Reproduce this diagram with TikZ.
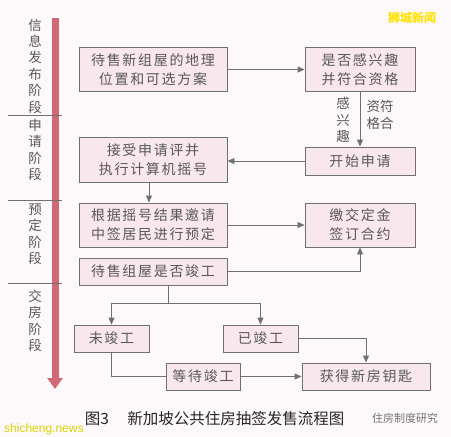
\documentclass[tikz,border=0pt]{standalone}
\usepackage{fontspec}
\newfontfamily\cjk{Noto Sans CJK SC}
\newfontfamily\cjkbox{Noto Sans CJK SC}[LetterSpace=12]
\newfontfamily\latinsans{Liberation Sans}
\usepackage{tikz}
\usetikzlibrary{calc,arrows.meta,positioning}
\definecolor{bgpink}{HTML}{FDF8FA}
\definecolor{boxfill}{HTML}{F8E7EC}
\definecolor{linegrey}{HTML}{707070}
\definecolor{textgrey}{HTML}{585858}
\definecolor{stagered}{HTML}{D06876}
\tikzset{flow/.style={draw=linegrey,fill=boxfill,line width=0.9pt,text=textgrey,align=center,inner sep=0pt,
    font=\cjkbox\fontsize{14}{19}\selectfont},
  link/.style={draw=linegrey,line width=0.9pt,-{Triangle[length=7pt,width=6pt]}},
  plain/.style={draw=linegrey,line width=0.9pt},
  stage/.style={text=textgrey,align=center,inner sep=0pt,font=\cjk\fontsize{13.5}{16.4}\selectfont}}

\begin{document}
\begin{tikzpicture}[x=1pt,y=-1pt]

% Background
\fill[bgpink] (0,0) rectangle (451,437);
\useasboundingbox (0,0) rectangle (451,437);

% Stages
\draw[stagered,line width=7pt,-{Triangle[length=11pt,width=15pt]}] (55,18) -- (55,389);
\draw[linegrey,line width=0.7pt] (8,115) -- (62,115);
\draw[linegrey,line width=0.7pt] (8,200) -- (62,200);
\draw[linegrey,line width=0.7pt] (8,283) -- (62,283);
\node[stage] (st1) at (35,66)  {信\\息\\发\\布\\阶\\段};
\node[stage] (st2) at (35,150) {申\\请\\阶\\段};
\node[stage] (st3) at (35,234) {预\\定\\阶\\段};
\node[stage] (st4) at (35,321) {交\\房\\阶\\段};

% Nodes
\node[flow,minimum width=148,minimum height=44] (info)     at (153,69.5)  {待售新组屋的地理\\位置和可选方案};
\node[flow,minimum width=110,minimum height=44] (interest) at (360,69.5)  {是否感兴趣\\并符合资格};
\node[flow,minimum width=110,minimum height=28] (apply)    at (360,161)   {开始申请};
\node[flow,minimum width=148,minimum height=45] (lottery)  at (153,159.5) {接受申请评并\\执行计算机摇号};
\node[flow,minimum width=148,minimum height=44] (booking)  at (153,225)   {根据摇号结果邀请\\中签居民进行预定};
\node[flow,minimum width=110,minimum height=44] (deposit)  at (360,225)   {缴交定金\\签订合约};
\node[flow,minimum width=148,minimum height=27] (ready)    at (153,271.5) {待售组屋是否竣工};
\node[flow,minimum width=75,minimum height=27]  (notdone)  at (111.5,338.5) {未竣工};
\node[flow,minimum width=75,minimum height=27]  (done)     at (260.5,338.5) {已竣工};
\node[flow,minimum width=74,minimum height=27]  (waiting)  at (203,376.5) {等待竣工};
\node[flow,minimum width=128,minimum height=27] (keys)     at (366,376.5) {获得新房钥匙};

% Arrow labels
\node[stage] (lab1) at (343,120) {感\\兴\\趣};
\node[stage] (lab2) at (380,115) {资符\\格合};

% Connectors
\coordinate (fork) at (168,303);
\draw[link] (info) -- (interest);
\draw[link] (interest) -- (apply);
\draw[link] (apply.west) -- (apply.west -| lottery.east);
\draw[link] (lottery.south -| 149,0) -- (booking.north -| 149,0);
\draw[link] (booking.east) -- (booking.east -| deposit.west);
\draw[link] (ready.east) -| (deposit.south);
\draw[plain] (ready.south -| fork) -- (fork);
\draw[link] (fork) -| (notdone.north);
\draw[link] (fork) -| (done.north);
\draw[plain] (notdone.south) |- (waiting.west);
\draw[link] (waiting.east) -- (waiting.east -| keys.west);
\draw[link] (done.east) -| (keys.north);

% Caption
\node[font=\cjk\fontsize{15.5}{18}\selectfont,text=black!85] (fignum) at (97,419) {图3};
\node[font=\cjk\fontsize{15.5}{18}\selectfont,text=black!85] (title) at (236,419) {新加坡公共住房抽签发售流程图};

% Marks
\node[font=\cjk\bfseries\fontsize{12}{14}\selectfont,text=yellow!85!orange] (mark1) at (412,18) {狮城新闻};
\node[font=\latinsans\fontsize{12}{14}\selectfont,text=yellow!70!olive,anchor=west,inner sep=0pt] (mark2) at (4,429) {shicheng.news};
\node[font=\cjk\fontsize{11}{13}\selectfont,text=black!55] (mark3) at (405,418) {住房制度研究};

\end{tikzpicture}
\end{document}
